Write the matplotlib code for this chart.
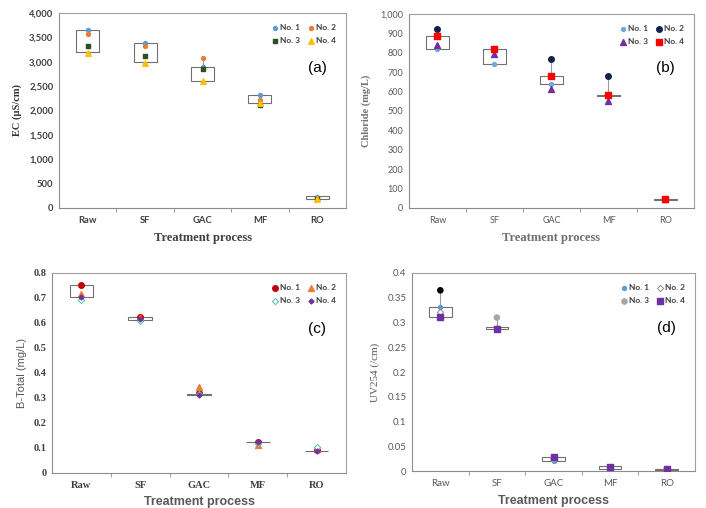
import matplotlib.pyplot as plt
import matplotlib.ticker as mticker
import numpy as np

processes = ['Raw', 'SF', 'GAC', 'MF', 'RO']
labels = ['No. 1', 'No. 2', 'No. 3', 'No. 4']

# (a) EC
ec_vals = [
    [3655, 3380, 2900, 2318, 235],
    [3565, 3325, 3070, 2215, 200],
    [3330, 3125, 2860, 2105, 190],
    [3175, 2975, 2595, 2148, 175],
]
ec_box_lo = [3190, 2990, 2600, 2148, 180]
ec_box_hi = [3650, 3375, 2900, 2318, 240]

# (b) Chloride
cl_vals = [
    [818, 740, 640, 580, 45],
    [923, 820, 769, 682, 46],
    [840, 796, 612, 550, 44],
    [887, 820, 680, 580, 45],
]
cl_box_lo = [818, 741, 640, 578, 41]
cl_box_hi = [887, 818, 680, 582, 48]

# (c) B-Total
b_vals = [
    [0.751, 0.623, 0.318, 0.125, 0.090],
    [0.717, 0.620, 0.344, 0.113, 0.095],
    [0.693, 0.607, 0.316, 0.120, 0.104],
    [0.704, 0.616, 0.313, 0.122, 0.087],
]
b_box_lo = [0.704, 0.613, 0.313, 0.122, 0.087]
b_box_hi = [0.751, 0.623, 0.314, 0.123, 0.088]

# (d) UV254
uv_vals = [
    [0.331, 0.289, 0.020, 0.005, 0.004],
    [0.322, 0.289, 0.025, 0.006, 0.004],
    [0.365, 0.310, 0.024, 0.007, 0.004],
    [0.312, 0.287, 0.0277, 0.009, 0.004],
]
uv_box_lo = [0.312, 0.287, 0.020, 0.004, 0.003]
uv_box_hi = [0.331, 0.290, 0.029, 0.010, 0.005]

GRID = '#8c8c8c'


def draw_panel(ax, vals, box_lo, box_hi, styles, ylim, ystep, tag):
    x = np.arange(len(processes))
    arr = np.array(vals)
    lo = np.minimum(arr.min(axis=0), box_lo)
    hi = np.maximum(arr.max(axis=0), box_hi)
    ax.vlines(x, lo, hi, color='#9a9a9a', lw=0.8, zorder=1)
    h = np.array(box_hi) - np.array(box_lo)
    ax.bar(x, h, bottom=box_lo, width=0.4, facecolor='white',
           edgecolor='#707070', lw=0.8, zorder=2)
    handles = []
    for i, v in enumerate(vals):
        st = styles[i]
        hd = ax.scatter(x, v, zorder=3 + i, label=labels[i], **st)
        handles.append(hd)
    ax.set_xlim(-0.5, 4.5)
    ax.set_ylim(*ylim)
    ax.yaxis.set_major_locator(mticker.MultipleLocator(ystep))
    ax.set_xticks(x)
    ax.set_xticklabels(processes)
    ax.set_xticks(x[:-1] + 0.5, minor=True)
    ax.tick_params(axis='x', which='major', length=0, pad=6)
    ax.tick_params(axis='x', which='minor', length=3, direction='out',
                   color=GRID)
    ax.tick_params(axis='y', length=0, pad=4)
    for s in ax.spines.values():
        s.set_color('#a0a0a0')
        s.set_linewidth(0.8)
    ax.spines['left'].set_color(GRID)
    ax.spines['bottom'].set_color(GRID)
    order = [0, 2, 1, 3]
    leg = ax.legend([handles[k] for k in order], [labels[k] for k in order],
                    ncol=2, loc='upper right', bbox_to_anchor=(0.99, 0.98),
                    frameon=False, handletextpad=0.1, columnspacing=0.8,
                    labelspacing=0.7, prop={'family': 'Lato',
                                            'weight': 'bold', 'size': 6},
                    labelcolor='#404040', handlelength=1.0)
    ax.text(0.9, 0.72, tag, transform=ax.transAxes, fontsize=11,
            family='Liberation Sans', ha='center', va='center')
    return leg


fig = plt.figure(figsize=(7.06, 5.08), dpi=100)

# panel (a)
ax = fig.add_axes([0.0836, 0.5906, 0.4065, 0.3839])
sty = [
    dict(marker='o', s=8, color='#5b9bd5'),
    dict(marker='o', s=8, color='#ed7d31'),
    dict(marker='s', s=12, color='#2f4f1f'),
    dict(marker='^', s=16, color='#ffc000'),
]
draw_panel(ax, ec_vals, ec_box_lo, ec_box_hi, sty, (0, 4000), 500, '(a)')
ax.yaxis.set_major_formatter(mticker.FuncFormatter(lambda v, p: f'{int(v):,}'))
for t in ax.get_xticklabels() + ax.get_yticklabels():
    t.set_family('Lato')
    t.set_weight('bold')
    t.set_fontsize(6.8)
    t.set_color('#404040')
ax.set_ylabel('EC (μS/cm)', family='Liberation Serif', weight='bold',
              fontsize=7.5, color='#333333', labelpad=5)
ax.set_xlabel('Treatment process', family='Liberation Serif', weight='bold',
              fontsize=9, color='#404040', labelpad=5)

# panel (b)
ax = fig.add_axes([0.5793, 0.5906, 0.4037, 0.3819])
sty = [
    dict(marker='o', s=8, color='#6fa8dc'),
    dict(marker='o', s=16, color='#14204a'),
    dict(marker='^', s=18, color='#7030a0'),
    dict(marker='s', s=22, color='#ff0000'),
]
draw_panel(ax, cl_vals, cl_box_lo, cl_box_hi, sty, (0, 1000), 100, '(b)')
ax.yaxis.set_major_formatter(mticker.FuncFormatter(lambda v, p: f'{int(v):,}'))
for t in ax.get_xticklabels() + ax.get_yticklabels():
    t.set_family('Lato')
    t.set_fontsize(6.5)
    t.set_color('#595959')
ax.set_ylabel('Chloride (mg/L)', family='Liberation Serif', weight='bold',
              fontsize=7.5, color='#707070', labelpad=7)
ax.set_xlabel('Treatment process', family='Liberation Serif', weight='bold',
              fontsize=9, color='#707070', labelpad=5)

# panel (c)
ax = fig.add_axes([0.0737, 0.0689, 0.4164, 0.3937])
sty = [
    dict(marker='o', s=16, color='#c00000'),
    dict(marker='^', s=18, color='#ed7d31'),
    dict(marker='D', s=10, facecolor='white', edgecolor='#4cc2b0',
         linewidths=0.7),
    dict(marker='D', s=6, color='#7030a0'),
]
draw_panel(ax, b_vals, b_box_lo, b_box_hi, sty, (0, 0.8), 0.1, '(c)')
ax.yaxis.set_major_formatter(mticker.FuncFormatter(lambda v, p: f'{v:g}'))
for t in ax.get_xticklabels() + ax.get_yticklabels():
    t.set_family('Liberation Serif')
    t.set_weight('bold')
    t.set_fontsize(7.5)
    t.set_color('#404040')
ax.set_ylabel('B-Total (mg/L)', family='Liberation Sans', fontsize=8,
              color='#595959', labelpad=5)
ax.set_xlabel('Treatment process', family='Liberation Sans', weight='bold',
              fontsize=9, color='#595959', labelpad=4)

# panel (d)
ax = fig.add_axes([0.5836, 0.0728, 0.4008, 0.3898])
sty = [
    dict(marker='o', s=8, color='#5b9bd5'),
    dict(marker='D', s=10, facecolor='white', edgecolor='#8c8c8c',
         linewidths=0.7),
    dict(marker='o', s=14, color=['#000000', '#a6a6a6', '#a6a6a6',
                                  '#a6a6a6', '#a6a6a6']),
    dict(marker='s', s=22, color='#7030a0'),
]
leg = draw_panel(ax, uv_vals, uv_box_lo, uv_box_hi, sty, (0, 0.4), 0.05,
                 '(d)')
# legend entry for No. 3 is the third handle after reordering
leg.legend_handles[1].set_facecolor('#a6a6a6')
leg.legend_handles[1].set_edgecolor('#a6a6a6')
ax.yaxis.set_major_formatter(mticker.FuncFormatter(lambda v, p: f'{v:g}'))
for t in ax.get_xticklabels() + ax.get_yticklabels():
    t.set_family('Lato')
    t.set_fontsize(7)
    t.set_color('#595959')
ax.set_ylabel('UV254 (/cm)', family='Liberation Serif', fontsize=8,
              color='#595959', labelpad=5)
ax.set_xlabel('Treatment process', family='Liberation Sans', weight='bold',
              fontsize=9, color='#595959', labelpad=5)

fig.savefig('out.png', dpi=100)
